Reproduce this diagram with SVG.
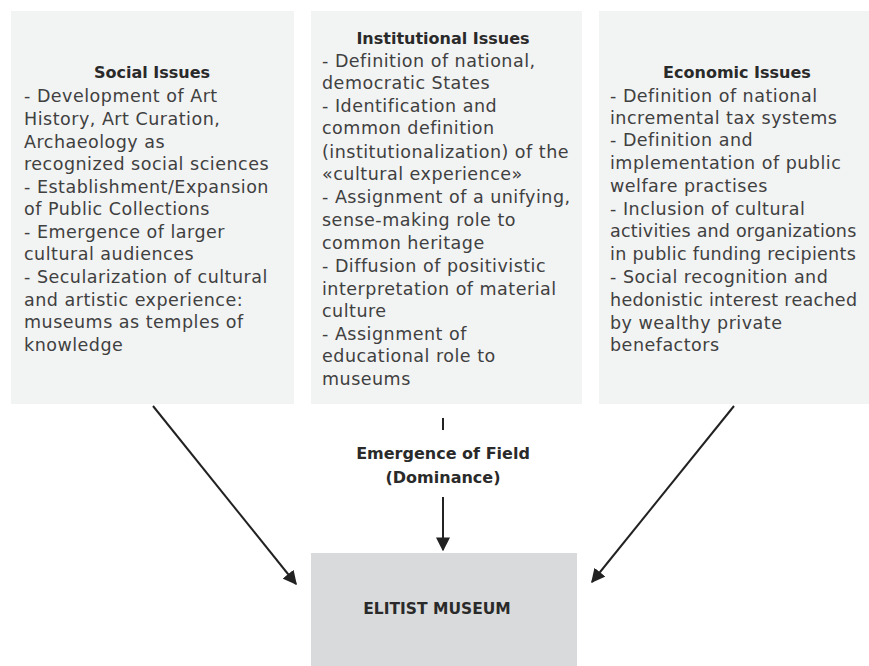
<svg xmlns="http://www.w3.org/2000/svg" width="869" height="666" viewBox="0 0 869 666">
  <style>
    .box { fill: #f2f3f3; }
    .core { fill: #d9dadb; }
    .title { font-family: "DejaVu Sans", "Liberation Sans", sans-serif; font-weight: bold; font-size: 16px; fill: #2a2a2a; text-anchor: middle; }
    .body { font-family: "DejaVu Sans", "Liberation Sans", sans-serif; font-size: 17.5px; fill: #404040; letter-spacing: 0.5px; }
    .label { font-family: "DejaVu Sans", "Liberation Sans", sans-serif; font-weight: bold; font-size: 16px; fill: #2a2a2a; text-anchor: middle; }
    .link { stroke: #222; stroke-width: 2; fill: none; marker-end: url(#head); }
  </style>
  <defs>
    <marker id="head" viewBox="0 0 10 10" refX="9" refY="5" markerWidth="7" markerHeight="7" markerUnits="strokeWidth" orient="auto">
      <path d="M0,0 L10,5 L0,10 z" fill="#222"/>
    </marker>
  </defs>
  <rect width="869" height="666" fill="#ffffff"/>

  <g id="social">
    <rect class="box" x="11" y="11" width="283" height="393"/>
    <text class="title" x="152" y="78">Social Issues</text>
    <text class="body">
      <tspan x="24" y="102">- Development of Art</tspan>
      <tspan x="24" y="125">History, Art Curation,</tspan>
      <tspan x="24" y="148">Archaeology as</tspan>
      <tspan x="24" y="170">recognized social sciences</tspan>
      <tspan x="24" y="193">- Establishment/Expansion</tspan>
      <tspan x="24" y="215">of Public Collections</tspan>
      <tspan x="24" y="238">- Emergence of larger</tspan>
      <tspan x="24" y="260">cultural audiences</tspan>
      <tspan x="24" y="283">- Secularization of cultural</tspan>
      <tspan x="24" y="306">and artistic experience:</tspan>
      <tspan x="24" y="328">museums as temples of</tspan>
      <tspan x="24" y="351">knowledge</tspan>
    </text>
  </g>

  <g id="institutional">
    <rect class="box" x="311" y="11" width="271" height="393"/>
    <text class="title" x="443" y="44">Institutional Issues</text>
    <text class="body">
      <tspan x="322" y="67">- Definition of national,</tspan>
      <tspan x="322" y="89">democratic States</tspan>
      <tspan x="322" y="112">- Identification and</tspan>
      <tspan x="322" y="134">common definition</tspan>
      <tspan x="322" y="158">(institutionalization) of the</tspan>
      <tspan x="322" y="180">«cultural experience»</tspan>
      <tspan x="322" y="203">- Assignment of a unifying,</tspan>
      <tspan x="322" y="226">sense-making role to</tspan>
      <tspan x="322" y="249">common heritage</tspan>
      <tspan x="322" y="272">- Diffusion of positivistic</tspan>
      <tspan x="322" y="295">interpretation of material</tspan>
      <tspan x="322" y="317">culture</tspan>
      <tspan x="322" y="340">- Assignment of</tspan>
      <tspan x="322" y="362">educational role to</tspan>
      <tspan x="322" y="385">museums</tspan>
    </text>
  </g>

  <g id="economic">
    <rect class="box" x="599" y="11" width="270" height="393"/>
    <text class="title" x="737" y="78">Economic Issues</text>
    <text class="body">
      <tspan x="610" y="102">- Definition of national</tspan>
      <tspan x="610" y="124">incremental tax systems</tspan>
      <tspan x="610" y="146">- Definition and</tspan>
      <tspan x="610" y="169">implementation of public</tspan>
      <tspan x="610" y="192">welfare practises</tspan>
      <tspan x="610" y="215">- Inclusion of cultural</tspan>
      <tspan x="610" y="237" letter-spacing="0.2">activities and organizations</tspan>
      <tspan x="610" y="260" letter-spacing="0.3">in public funding recipients</tspan>
      <tspan x="610" y="283">- Social recognition and</tspan>
      <tspan x="610" y="306" letter-spacing="0.3">hedonistic interest reached</tspan>
      <tspan x="610" y="329">by wealthy private</tspan>
      <tspan x="610" y="351">benefactors</tspan>
    </text>
  </g>

  <g id="field">
    <text class="label" x="443" y="459">Emergence of Field</text>
    <text class="label" x="443" y="483">(Dominance)</text>
  </g>

  <g id="museum">
    <rect class="core" x="311" y="553" width="266" height="113"/>
    <text class="title" x="437" y="614" style="font-size:15.5px">ELITIST MUSEUM</text>
  </g>

  <g id="connectors">
    <line x1="443" y1="418" x2="443" y2="430" stroke="#222" stroke-width="2"/>
    <line class="link" x1="443" y1="497" x2="443" y2="550"/>
    <line class="link" x1="153" y1="406" x2="296" y2="584"/>
    <line class="link" x1="734" y1="406" x2="592" y2="582"/>
  </g>
</svg>
